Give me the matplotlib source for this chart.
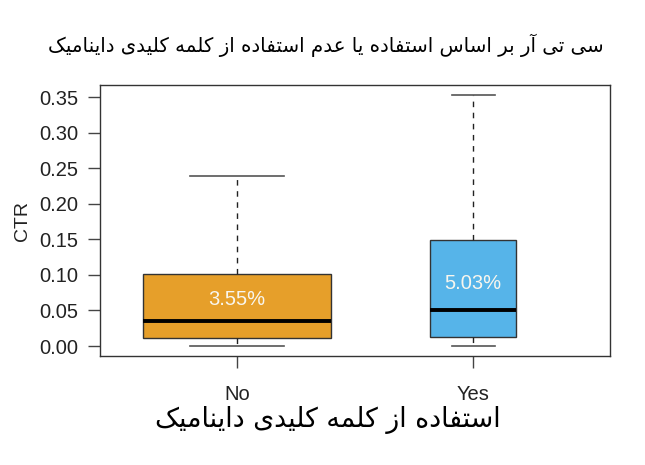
import matplotlib
matplotlib.use("Agg")
import matplotlib.pyplot as plt

# data
groups = ['No', 'Yes']
q1 = [0.011, 0.013]
medians = [0.0355, 0.0503]
q3 = [0.101, 0.149]
whislo = [0.0, 0.0]
whishi = [0.239, 0.353]
box_widths = [0.80, 0.365]
label_y = [0.066, 0.0886]
colors = ['#E69F2A', '#56B4E9']
yticks = [0.00, 0.05, 0.10, 0.15, 0.20, 0.25, 0.30, 0.35]

title_text = 'سی تی آر بر اساس استفاده یا عدم استفاده از کلمه کلیدی داینامیک'
xlabel_text = 'استفاده از کلمه کلیدی داینامیک'

# simple persian shaping: (isolated, final, initial, medial)
FORMS = {
    'ا': ('\uFE8D', '\uFE8E', None, None),
    'آ': ('\uFE81', '\uFE82', None, None),
    'د': ('\uFEA9', '\uFEAA', None, None),
    'ر': ('\uFEAD', '\uFEAE', None, None),
    'ز': ('\uFEAF', '\uFEB0', None, None),
    'ب': ('\uFE8F', '\uFE90', '\uFE91', '\uFE92'),
    'ت': ('\uFE95', '\uFE96', '\uFE97', '\uFE98'),
    'س': ('\uFEB1', '\uFEB2', '\uFEB3', '\uFEB4'),
    'ع': ('\uFEC9', '\uFECA', '\uFECB', '\uFECC'),
    'ف': ('\uFED1', '\uFED2', '\uFED3', '\uFED4'),
    'ک': ('\uFB8E', '\uFB8F', '\uFB90', '\uFB91'),
    'ل': ('\uFEDD', '\uFEDE', '\uFEDF', '\uFEE0'),
    'م': ('\uFEE1', '\uFEE2', '\uFEE3', '\uFEE4'),
    'ن': ('\uFEE5', '\uFEE6', '\uFEE7', '\uFEE8'),
    'ه': ('\uFEE9', '\uFEEA', '\uFEEB', '\uFEEC'),
    'ی': ('\uFBFC', '\uFBFD', '\uFBFE', '\uFBFF'),
}


def dual(ch):
    return ch in FORMS and FORMS[ch][2] is not None


def shape(text):
    out = []
    for i, ch in enumerate(text):
        if ch not in FORMS:
            out.append(ch)
            continue
        prev = text[i - 1] if i > 0 else ''
        nxt = text[i + 1] if i + 1 < len(text) else ''
        jp = dual(prev)
        jn = dual(ch) and nxt in FORMS
        if jp and jn:
            out.append(FORMS[ch][3])
        elif jp:
            out.append(FORMS[ch][1])
        elif jn:
            out.append(FORMS[ch][2])
        else:
            out.append(FORMS[ch][0])
    return ''.join(reversed(out))


plt.rcParams['font.family'] = ['Liberation Sans', 'DejaVu Sans']

fig = plt.figure(figsize=(6.45, 4.65), dpi=100)
ax = fig.add_axes([0.155, 0.2344, 0.7907, 0.5828])

positions = [1, 2]
stats = []
for i, g in enumerate(groups):
    stats.append({'label': g, 'q1': q1[i], 'med': medians[i], 'q3': q3[i],
                  'whislo': whislo[i], 'whishi': whishi[i], 'fliers': []})

bp = ax.bxp(stats, positions=positions, widths=box_widths,
            capwidths=[w / 2 for w in box_widths], patch_artist=True,
            showfliers=False,
            boxprops=dict(edgecolor='#333333', linewidth=1.0),
            medianprops=dict(color='black', linewidth=2.8),
            whiskerprops=dict(color='#222222', linewidth=1.0, linestyle=(0, (4, 4))),
            capprops=dict(color='#555555', linewidth=1.2))
for patch, c in zip(bp['boxes'], colors):
    patch.set_facecolor(c)

for i in range(len(groups)):
    ax.text(positions[i], label_y[i], f'{medians[i] * 100:.2f}%',
            ha='center', va='center', color='#f8f6ee', fontsize=14.5)

ax.set_xlim(0.4195, 2.58)
ax.set_ylim(-0.014, 0.367)
ax.set_yticks(yticks)
ax.set_yticklabels([f'{v:.2f}' for v in yticks])
ax.set_xticks(positions)
ax.set_xticklabels(groups)

for s in ax.spines.values():
    s.set_color('#333333')
    s.set_linewidth(1.0)

ax.tick_params(axis='both', length=8.6, width=1.0, color='#444444',
               labelcolor='#222222', labelsize=14.5)
ax.tick_params(axis='y', pad=7)
ax.tick_params(axis='x', pad=12)

ax.set_ylabel('CTR', fontsize=14, color='#222222', labelpad=6)

fig.text(0.505, 0.903, shape(title_text), ha='center', va='center',
         fontsize=14.2, family='DejaVu Sans')
fig.text(0.508, 0.097, shape(xlabel_text), ha='center', va='center',
         fontsize=19.3, family='DejaVu Sans')

fig.savefig('out.png', dpi=100)
